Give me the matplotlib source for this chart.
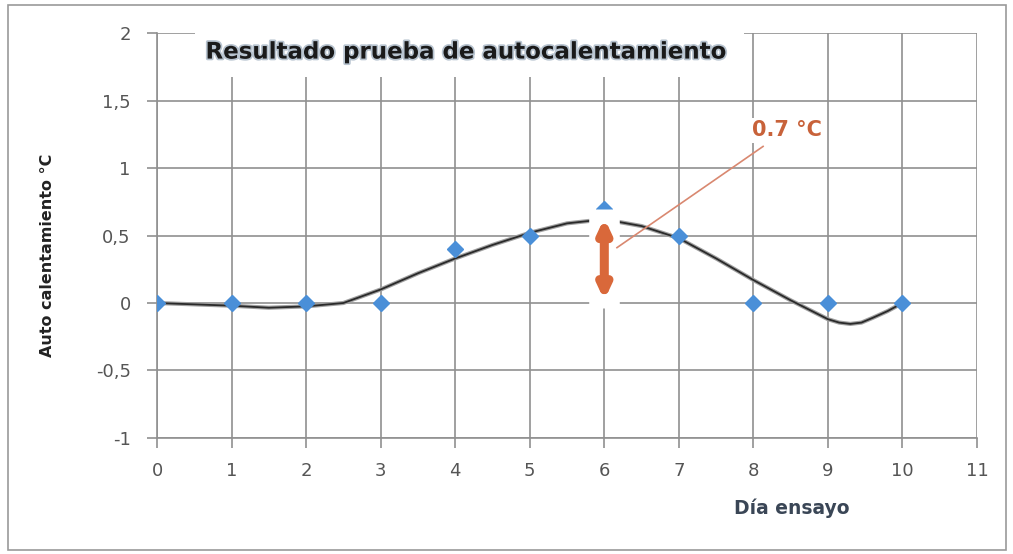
import matplotlib
matplotlib.use("Agg")
import matplotlib.pyplot as plt
import matplotlib.patheffects as pe
from matplotlib.patches import Rectangle

# datos del ensayo
dias = [0, 1, 2, 3, 4, 5, 6, 7, 8, 9, 10]
autocal = [0, 0, 0, 0, 0.4, 0.5, 0.7, 0.5, 0, 0, 0]

# linea de tendencia
tend_x = [0, 0.5, 1, 1.5, 2, 2.5, 3, 3.5, 4, 4.5, 5, 5.5, 6, 6.5, 7, 7.5, 8, 8.5,
          9, 9.15, 9.3, 9.45, 9.6, 9.8, 10]
tend_y = [0.0, -0.01, -0.02, -0.035, -0.025, 0.0, 0.1, 0.22, 0.33, 0.43, 0.52, 0.59, 0.62,
          0.57, 0.48, 0.33, 0.17, 0.02, -0.12, -0.145, -0.155, -0.145, -0.11, -0.06, 0.0]

xticks = [0, 1, 2, 3, 4, 5, 6, 7, 8, 9, 10, 11]
yticks = [-1, -0.5, 0, 0.5, 1, 1.5, 2]
ytick_labels = ["-1", "-0,5", "0", "0,5", "1", "1,5", "2"]
flecha_dia = 6
flecha_min = 0.02
flecha_max = 0.63
etiqueta = "0.7 °C"

grid_col = "#909090"
azul = "#4a8fd8"
naranja = "#d9683a"

fig = plt.figure(figsize=(10.13, 5.54), dpi=100)
ax = fig.add_axes([0.155, 0.2094, 0.8095, 0.731])

# marco exterior
fig.patches.append(Rectangle((0.008, 0.007), 0.985, 0.984, transform=fig.transFigure,
                             fill=False, edgecolor="#9a9a9a", lw=1.2))

ax.plot(tend_x, tend_y, color="#a0a0a0", lw=3.0, zorder=3, solid_joinstyle="round")
ax.plot(tend_x, tend_y, color="#2a2a2a", lw=1.3, zorder=3, solid_joinstyle="round")

ax.plot(dias, autocal, linestyle="none", marker="D", markersize=8.5,
        color=azul, zorder=4)

# contorno blanco de la flecha
ax.plot([flecha_dia, flecha_dia], [flecha_min - 0.06, flecha_max + 0.07], color="white",
        lw=22, solid_capstyle="butt", zorder=5)
# flecha de 0.7 C
ax.annotate("", xy=(flecha_dia, flecha_max), xytext=(flecha_dia, flecha_min),
            arrowprops=dict(arrowstyle="<|-|>,head_length=0.6,head_width=0.28",
                            lw=6.5, color=naranja, shrinkA=0, shrinkB=0,
                            mutation_scale=12),
            zorder=6)
ax.plot([6.17, 8.13], [0.41, 1.16], color="#d98870", lw=1.2, zorder=6)
ax.text(8.45, 1.28, etiqueta, color="#c8623a", fontsize=15, fontweight="bold",
        ha="center", va="center", zorder=7,
        bbox=dict(facecolor="white", edgecolor="none", pad=2))

ax.set_xlim(0, 11)
ax.set_ylim(-1, 2)
ax.set_xticks(xticks)
ax.set_yticks(yticks)
ax.set_yticklabels(ytick_labels)
ax.grid(True, color=grid_col, lw=1.2, zorder=0)
ax.set_axisbelow(True)
for s in ["top", "right"]:
    ax.spines[s].set_visible(False)
for s in ["left", "bottom"]:
    ax.spines[s].set_color(grid_col)
    ax.spines[s].set_linewidth(1.2)
ax.tick_params(axis="both", colors=grid_col, labelcolor="#555555", labelsize=13,
               length=7, width=1.2)
ax.tick_params(axis="x", pad=10)
ax.tick_params(axis="y", pad=12)

# caja blanca del titulo
ax.add_patch(Rectangle((0.046, 0.891), 0.67, 0.12, transform=ax.transAxes,
                       facecolor="white", edgecolor="none", zorder=2, clip_on=False))
fig.text(0.459, 0.906, "Resultado prueba de autocalentamiento", fontsize=16.5,
         fontweight="bold", color="#1a1a1a", ha="center", va="center",
         path_effects=[pe.withStroke(linewidth=2.5, foreground="#b8c4d0")])

ax.set_ylabel("Auto calentamiento °C", fontsize=11.5, fontweight="bold", color="#222222")
ax.yaxis.set_label_coords(-0.124, 0.45)
ax.set_xlabel("Día ensayo", fontsize=13.5, fontweight="bold", color="#3a4656")
ax.xaxis.set_label_coords(0.774, -0.173)
ax.xaxis.label.set_va("center")

fig.savefig("out.png", dpi=100)
